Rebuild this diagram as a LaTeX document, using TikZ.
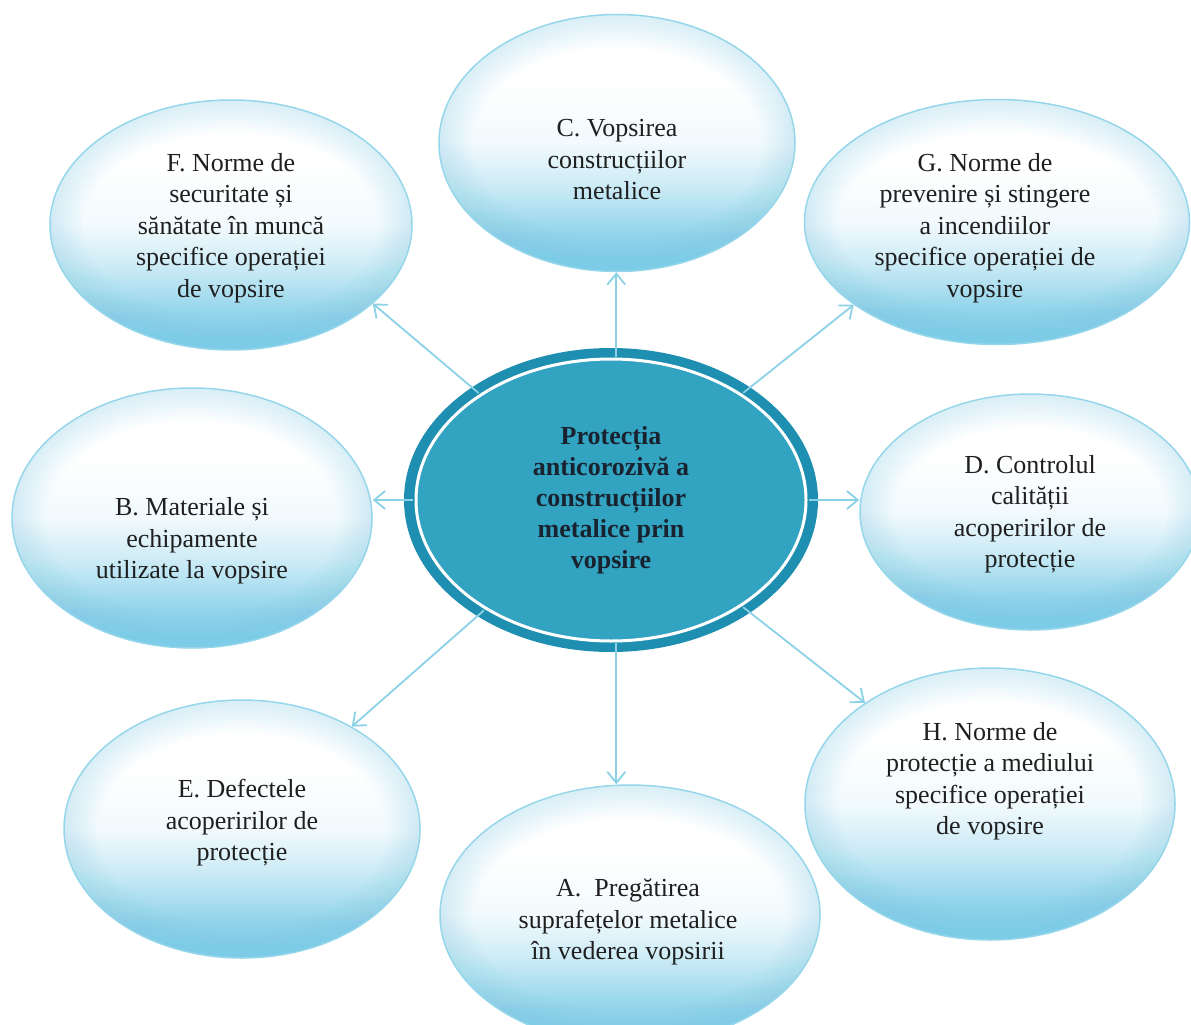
\documentclass[tikz,border=0pt]{standalone}
\usepackage{fontspec}
\setmainfont{Liberation Serif}
\usetikzlibrary{shapes.geometric,arrows.meta,calc}
\definecolor{bub}{RGB}{125,204,231}
\definecolor{bubline}{RGB}{150,214,234}
\definecolor{arr}{RGB}{140,210,230}
\definecolor{cin}{RGB}{50,163,192}
\definecolor{cring}{RGB}{30,143,176}
\definecolor{ctext}{RGB}{25,35,48}
\pgfdeclareverticalshading{bubshade}{100bp}{color(0bp)=(bub); color(25bp)=(bub); color(32bp)=(bub!85!white); color(42bp)=(bub!38!white); color(50bp)=(bub!10!white); color(62bp)=(white); color(100bp)=(white)}
\begin{document}
\begin{tikzpicture}[x=1pt,y=-1pt,
  bubble/.style={ellipse, inner sep=0pt, draw=bubline, line width=1.5pt, shading=bubshade,
    path picture={
      \foreach \w in {8,16,...,64}{
        \draw[bub, line width=\w pt, opacity=0.035]
          let \p1=($(path picture bounding box.north east)-(path picture bounding box.center)$) in
          (path picture bounding box.center) ellipse [x radius=\x1, y radius=\y1];
      }
    }},
  txt/.style={font=\fontsize{26}{31.5}\selectfont, align=center, text=black!88},
  hub/.style={ellipse, inner sep=0pt, fill=cring,
    path picture={\draw[white, line width=3pt, fill=cin] (path picture bounding box.center) ellipse [x radius=195pt, y radius=141pt];},
    font=\bfseries\fontsize{26}{31}\selectfont, align=center, text=ctext},
  link/.style={arr, line width=1.8pt, -{Straight Barb[length=11pt,width=18pt]}, shorten <=-9pt}
]
\useasboundingbox (0,0) rectangle (1191,1025);

\node[bubble, minimum width=356pt, minimum height=257pt,
  label={[txt,yshift=-17pt]center:{C. Vopsirea\\construcțiilor\\metalice}}] (C) at (617,143) {};
\node[bubble, minimum width=362pt, minimum height=250pt,
  label={[txt,yshift=-3pt]center:{F. Norme de\\securitate și\\sănătate în muncă\\specifice operației\\de vopsire}}] (F) at (231,225) {};
\node[bubble, minimum width=385pt, minimum height=245pt,
  label={[txt,xshift=-12pt,yshift=-6pt]center:{G. Norme de\\prevenire și stingere\\a incendiilor\\specifice operației de\\vopsire}}] (G) at (997,222) {};
\node[bubble, minimum width=360pt, minimum height=260pt,
  label={[txt,yshift=-23pt]center:{B. Materiale și\\echipamente\\utilizate la vopsire}}] (B) at (192,518) {};
\node[bubble, minimum width=340pt, minimum height=236pt,
  label={[txt,yshift=-2pt]center:{D. Controlul\\calității\\acoperirilor de\\protecție}}] (D) at (1030,512) {};
\node[bubble, minimum width=356pt, minimum height=258pt,
  label={[txt,yshift=6pt]center:{E. Defectele\\acoperirilor de\\protecție}}] (E) at (242,829) {};
\node[bubble, minimum width=380pt, minimum height=260pt,
  label={[txt,xshift=-2pt,yshift=-7pt]center:{A.\ \ Pregătirea\\suprafețelor metalice\\în vederea vopsirii}}] (A) at (630,915) {};
\node[bubble, minimum width=370pt, minimum height=272pt,
  label={[txt,yshift=23pt]center:{H. Norme de\\protecție a mediului\\specifice operației\\de vopsire}}] (H) at (990,804) {};

\node[hub, minimum width=414pt, minimum height=304pt] (M) at (611,500)
  {Protecția\\anticorozivă a\\construcțiilor\\metalice prin\\vopsire};

\draw[link] (M.88) -- (M.88 |- C.south);
\draw[link] (M.-88) -- (M.-88 |- A.north);
\draw[link] (M.west) -- (M.west -| B.east);
\draw[link] (M.east) -- (M.east -| D.west);
\draw[link] (M.141.4) -- (F.-29);
\draw[link] (M.39.3) -- (G.210);
\draw[link] (M.221.7) -- (E.43.5);
\draw[link] (M.-39.6) -- (H.141.8);
\end{tikzpicture}
\end{document}
